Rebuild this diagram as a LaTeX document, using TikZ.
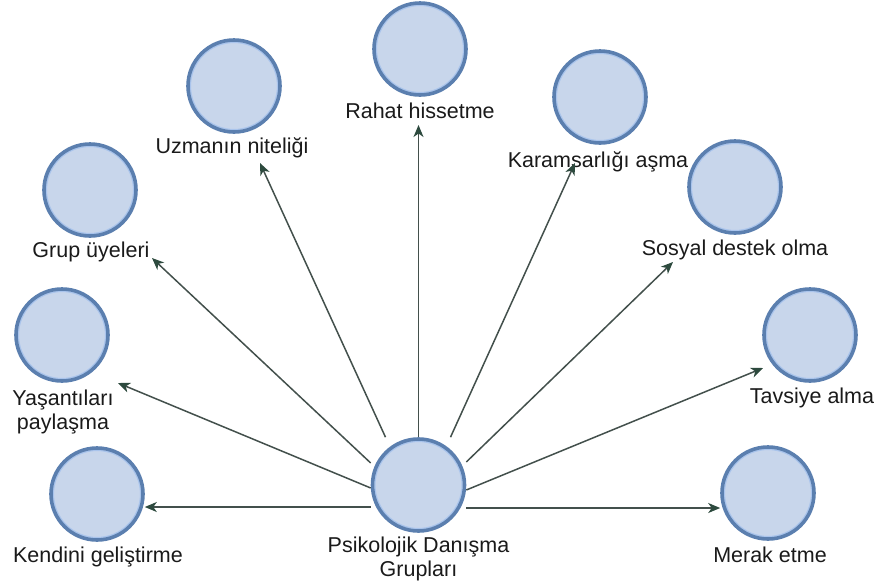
\documentclass[tikz,border=0pt]{standalone}
\usepackage{fontspec}
\setmainfont{Liberation Sans}
\usetikzlibrary{arrows.meta}
\definecolor{ringdark}{HTML}{5B7FAF}
\definecolor{ringlight}{HTML}{A9C4EC}
\definecolor{bubble}{HTML}{C8D6EB}
\definecolor{linkline}{HTML}{43504C}
\definecolor{linktip}{HTML}{2D4A3E}
\definecolor{labeltext}{HTML}{1A1A1A}
\begin{document}
\begin{tikzpicture}[x=1pt,y=-1pt,
  bubblenode/.style={circle, minimum size=92pt, inner sep=0pt, fill=bubble,
    draw=ringdark, line width=3.6pt,
    path picture={\draw[ringlight, line width=1.3pt]
      (path picture bounding box.center) circle (43.6pt);}},
  tag/.style={inner sep=0pt, text=labeltext, font=\fontsize{21.5}{24.5}\selectfont, align=center},
  link/.style={draw=linkline, line width=1.5pt,
    -{Stealth[length=12pt,width=10pt,inset=3.5pt,color=linktip]}}
]
\useasboundingbox (0,0) rectangle (876,584);

% circles
\node[bubblenode] (c)   at (418.5,485) {};
\node[bubblenode] (ken) at (97,494)  {};
\node[bubblenode] (yas) at (62,335)  {};
\node[bubblenode] (gru) at (90,190)  {};
\node[bubblenode] (uzm) at (234,86)  {};
\node[bubblenode] (rah) at (420,49)  {};
\node[bubblenode] (kar) at (600,97)  {};
\node[bubblenode] (sos) at (735,187) {};
\node[bubblenode] (tav) at (810,335) {};
\node[bubblenode] (mer) at (768,493) {};

% captions
\node[tag, anchor=north] (cL)   at (418.5,536.5) {Psikolojik Danışma\\Grupları};
\node[tag, anchor=base]  (kenL) at (98,562)  {Kendini geliştirme};
\node[tag, anchor=north] (yasL) at (63,389.5) {Yaşantıları\\paylaşma};
\node[tag, anchor=base]  (gruL) at (91,257)  {Grup üyeleri};
\node[tag, anchor=base]  (uzmL) at (232,153) {Uzmanın niteliği};
\node[tag, anchor=base]  (rahL) at (420,118) {Rahat hissetme};
\node[tag, anchor=base]  (karL) at (598,167) {Karamsarlığı aşma};
\node[tag, anchor=base]  (sosL) at (735,255) {Sosyal destek olma};
\node[tag, anchor=base]  (tavL) at (812,403) {Tavsiye alma};
\node[tag, anchor=base]  (merL) at (770,562) {Merak etme};

% arrow ends
\coordinate (yasT) at (118,383);
\coordinate (gruT) at (152,258);
\coordinate (uzmT) at (260,163);
\coordinate (rahT) at (418.5,125);
\coordinate (karT) at (575,163);
\coordinate (sosT) at (673,262);
\coordinate (tavT) at (763,368);

% arrows from the central circle
\draw[link] ([yshift=-22pt]c.west) -- ([yshift=-22pt]c.west -| ken.east);
\draw[link] ([yshift=-3pt]c.west)  -- (yasT);
\draw[link] ([yshift=22pt]c.west)  -- (gruT);
\draw[link] ([xshift=-33pt]c.north) -- (uzmT);
\draw[link] (c.north) -- (rahT);
\draw[link] ([xshift=32pt]c.north) -- (karT);
\draw[link] ([yshift=23pt]c.east)  -- (sosT);
\draw[link] ([yshift=-5pt]c.east)  -- (tavT);
\draw[link] ([yshift=-23pt]c.east) -- ([yshift=-23pt]c.east -| mer.west);
\end{tikzpicture}
\end{document}
